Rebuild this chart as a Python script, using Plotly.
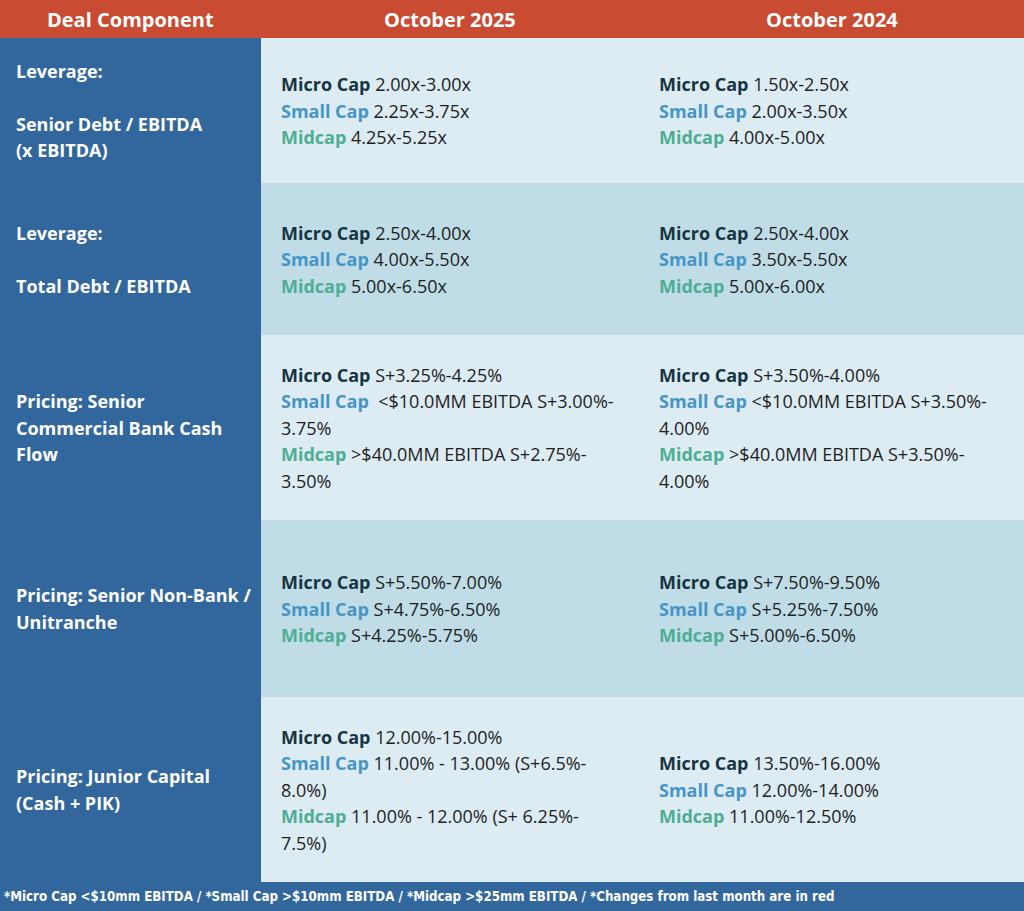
import plotly.graph_objects as go

# table content
header = ["Deal Component", "October 2025", "October 2024"]

components = [
    ["Leverage:", "", "Senior Debt / EBITDA", "(x EBITDA)"],
    ["Leverage:", "", "Total Debt / EBITDA"],
    ["Pricing: Senior", "Commercial Bank Cash", "Flow"],
    ["Pricing: Senior Non-Bank /", "Unitranche"],
    ["Pricing: Junior Capital", "(Cash + PIK)"],
]

caps = ["Micro Cap", "Small Cap", "Midcap"]

oct_2025 = [
    [["2.00x-3.00x"], ["2.25x-3.75x"], ["4.25x-5.25x"]],
    [["2.50x-4.00x"], ["4.00x-5.50x"], ["5.00x-6.50x"]],
    [["S+3.25%-4.25%"], ["\u00a0<$10.0MM EBITDA S+3.00%-", "3.75%"],
     [">$40.0MM EBITDA S+2.75%-", "3.50%"]],
    [["S+5.50%-7.00%"], ["S+4.75%-6.50%"], ["S+4.25%-5.75%"]],
    [["12.00%-15.00%"], ["11.00% - 13.00% (S+6.5%-", "8.0%)"],
     ["11.00% - 12.00% (S+ 6.25%-", "7.5%)"]],
]

oct_2024 = [
    [["1.50x-2.50x"], ["2.00x-3.50x"], ["4.00x-5.00x"]],
    [["2.50x-4.00x"], ["3.50x-5.50x"], ["5.00x-6.00x"]],
    [["S+3.50%-4.00%"], ["<$10.0MM EBITDA S+3.50%-", "4.00%"],
     [">$40.0MM EBITDA S+3.50%-", "4.00%"]],
    [["S+7.50%-9.50%"], ["S+5.25%-7.50%"], ["S+5.00%-6.50%"]],
    [["13.50%-16.00%"], ["12.00%-14.00%"], ["11.00%-12.50%"]],
]

footnote = ("*Micro Cap <$10mm EBITDA / *Small Cap >$10mm EBITDA / "
            "*Midcap >$25mm EBITDA / *Changes from last month are in red")

# layout
W, H = 1024, 911
col_edges = [0, 261, 639, 1024]
row_edges = [38, 183, 335, 520, 697, 882]
line_h = 26.5
pad = 18

HEAD = "#c94b31"
BLUE = "#32679d"
LIGHT = "#ddebf3"
DARK = "#bfdce7"
CAP_COLORS = ["#163441", "#4596c7", "#4dae93"]
TEXT = "#1e1e1e"
FONT = "Open Sans, Lato, sans-serif"

shapes = []
annotations = []


def rect(x0, x1, y0, y1, color):
    shapes.append(dict(type="rect", xref="x", yref="y", x0=x0, x1=x1,
                       y0=y0, y1=y1, fillcolor=color, line=dict(width=0),
                       layer="below"))


def label(x, y, text, size, color, xanchor="left", bold=False, family=FONT):
    if bold:
        text = "<b>" + text + "</b>"
    annotations.append(dict(x=x, y=y, xref="x", yref="y", text=text,
                            showarrow=False, xanchor=xanchor, yanchor="middle",
                            font=dict(family=family, size=size, color=color)))


# header band and footer band
rect(0, W, 0, row_edges[0], HEAD)
rect(0, W, row_edges[-1], H, BLUE)
for j, h in enumerate(header):
    label((col_edges[j] + col_edges[j + 1]) / 2, 19, h, 20, "white",
          xanchor="center", bold=True)

for i in range(len(components)):
    y0, y1 = row_edges[i], row_edges[i + 1]
    mid = (y0 + y1) / 2
    rect(col_edges[0], col_edges[1], y0, y1, BLUE)
    rect(col_edges[1], col_edges[3], y0, y1, LIGHT if i % 2 == 0 else DARK)

    lines = components[i]
    for k, t in enumerate(lines):
        if t:
            label(14, mid + (k - (len(lines) - 1) / 2) * line_h, t, 18,
                  "white", bold=True)

    for j, col in enumerate([oct_2025, oct_2024]):
        rows = []
        for c, parts in enumerate(col[i]):
            first = ("<span style='color:%s'><b>%s</b></span> %s"
                     % (CAP_COLORS[c], caps[c], parts[0]))
            rows.append(first)
            rows.extend(parts[1:])
        x = col_edges[j + 1] + pad
        for k, t in enumerate(rows):
            label(x, mid + (k - (len(rows) - 1) / 2) * line_h, t, 18, TEXT)

label(2, (row_edges[-1] + H) / 2, footnote, 13.2, "white", bold=True,
      family="Liberation Sans Narrow, DejaVu Sans Condensed, sans-serif")

fig = go.Figure()
fig.update_layout(
    width=W, height=H,
    margin=dict(l=0, r=0, t=0, b=0),
    paper_bgcolor="white", plot_bgcolor="white",
    xaxis=dict(range=[0, W], visible=False, fixedrange=True),
    yaxis=dict(range=[H, 0], visible=False, fixedrange=True),
    shapes=shapes, annotations=annotations,
    showlegend=False,
)
fig.write_html("out.html", config={"displayModeBar": False},
               post_script="document.body.style.margin='0';")
